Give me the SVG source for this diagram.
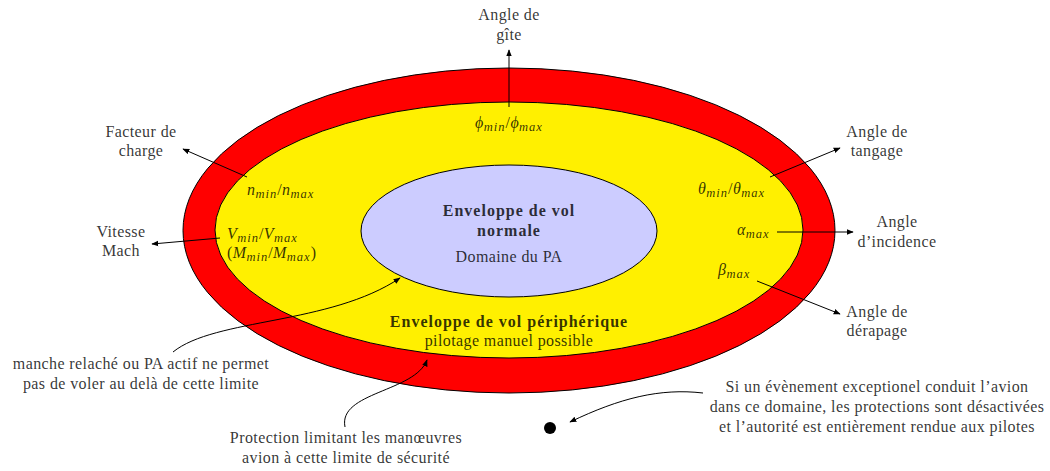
<svg xmlns="http://www.w3.org/2000/svg" width="1050" height="471" viewBox="0 0 1050 471">
<defs>
<marker id="arr" viewBox="0 0 10 10" refX="9" refY="5" markerWidth="7" markerHeight="7" markerUnits="userSpaceOnUse" orient="auto">
<path d="M0,1 L10,5 L0,9 Z" fill="#000"/>
</marker>
<style>
text{font-family:"Liberation Serif","Times New Roman",serif;font-size:16px;letter-spacing:0.4px;fill:#000;fill-opacity:0.8}
.c{text-anchor:middle}
.b{font-weight:bold;letter-spacing:1px}
.m{font-style:italic}
.s{font-size:12.5px;font-style:italic;letter-spacing:1px}
.ln{fill:none;stroke:#000;stroke-width:1;marker-end:url(#arr)}
</style>
</defs>
<rect width="1050" height="471" fill="#fff"/>
<g id="outer"><ellipse cx="509" cy="230.5" rx="326" ry="162.5" fill="#ff0000" stroke="#000" stroke-width="1"/></g>
<g id="peripheral">
<ellipse cx="509" cy="230" rx="294" ry="128" fill="#fff000" stroke="#000" stroke-width="1"/>
<text class="c b" x="509" y="327">Enveloppe de vol périphérique</text>
<text class="c" x="509" y="346">pilotage manuel possible</text>
</g>
<g id="normal">
<ellipse cx="509" cy="231" rx="148" ry="66" fill="#ccccff" stroke="#000" stroke-width="1"/>
<text class="c b" x="509" y="216">Enveloppe de vol</text>
<text class="c b" x="509" y="236">normale</text>
<text class="c" x="509" y="262">Domaine du PA</text>
</g>
<g id="connectors">
<line class="ln" x1="509" y1="107" x2="509" y2="50"/>
<line class="ln" x1="247" y1="177" x2="183" y2="149"/>
<line class="ln" x1="220" y1="238" x2="152" y2="244"/>
<line class="ln" x1="770" y1="177" x2="840" y2="148"/>
<line class="ln" x1="777" y1="232" x2="853" y2="232"/>
<line class="ln" x1="757" y1="281" x2="840" y2="314"/>
<path class="ln" d="M173,352 C215,318 330,325 400,278"/>
<path class="ln" d="M345,427 C338,392 415,392 427,360"/>
<path class="ln" d="M703,393 C660,388 620,398 570,422"/>
</g>
<g id="bank">
<text class="c" x="509" y="20">Angle de</text>
<text class="c" x="509" y="40">gîte</text>
<text class="c" x="509" y="128"><tspan class="m">ϕ</tspan><tspan class="s" dy="3">min</tspan><tspan dy="-3">/</tspan><tspan class="m">ϕ</tspan><tspan class="s" dy="3">max</tspan></text>
</g>
<g id="load">
<text class="c" x="141" y="137">Facteur de</text>
<text class="c" x="141" y="156">charge</text>
<text x="247" y="195"><tspan class="m">n</tspan><tspan class="s" dy="3">min</tspan><tspan dy="-3">/</tspan><tspan class="m">n</tspan><tspan class="s" dy="3">max</tspan></text>
</g>
<g id="speed">
<text class="c" x="121" y="237">Vitesse</text>
<text class="c" x="121" y="256">Mach</text>
<text x="227" y="239"><tspan class="m">V</tspan><tspan class="s" dy="3">min</tspan><tspan dy="-3">/</tspan><tspan class="m">V</tspan><tspan class="s" dy="3">max</tspan></text>
<text x="227" y="258">(<tspan class="m">M</tspan><tspan class="s" dy="3">min</tspan><tspan dy="-3">/</tspan><tspan class="m">M</tspan><tspan class="s" dy="3">max</tspan><tspan dy="-3">)</tspan></text>
</g>
<g id="pitch">
<text class="c" x="877" y="137">Angle de</text>
<text class="c" x="877" y="156">tangage</text>
<text x="698" y="194"><tspan class="m">θ</tspan><tspan class="s" dy="3">min</tspan><tspan dy="-3">/</tspan><tspan class="m">θ</tspan><tspan class="s" dy="3">max</tspan></text>
</g>
<g id="aoa">
<text class="c" x="897" y="227">Angle</text>
<text class="c" x="897" y="247">d’incidence</text>
<text x="737" y="235"><tspan class="m">α</tspan><tspan class="s" dy="3">max</tspan></text>
</g>
<g id="sideslip">
<text class="c" x="877" y="317">Angle de</text>
<text class="c" x="877" y="336">dérapage</text>
<text x="718" y="275"><tspan class="m">β</tspan><tspan class="s" dy="3">max</tspan></text>
</g>
<g id="note-pa">
<text class="c" x="141" y="369">manche relaché ou PA actif ne permet</text>
<text class="c" x="141" y="389">pas de voler au delà de cette limite</text>
</g>
<g id="note-protection">
<text class="c" x="346" y="443">Protection limitant les manœuvres</text>
<text class="c" x="346" y="463">avion à cette limite de sécurité</text>
</g>
<g id="note-exception">
<circle cx="550" cy="428" r="6" fill="#000"/>
<text class="c" x="877" y="392">Si un évènement exceptionel conduit l’avion</text>
<text class="c" x="877" y="412">dans ce domaine, les protections sont désactivées</text>
<text class="c" x="877" y="432">et l’autorité est entièrement rendue aux pilotes</text>
</g>
</svg>
